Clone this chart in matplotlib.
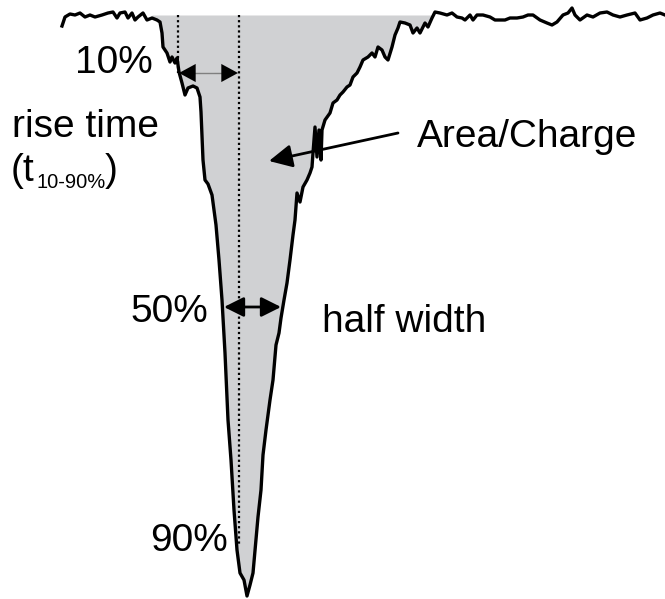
import numpy as np
import matplotlib
matplotlib.use("Agg")
import matplotlib.pyplot as plt

# Trace (pixel coordinates: x to the right, y downward)
trace_x = [62, 65, 70, 75, 80, 85, 90, 95, 102, 108, 113, 117, 120, 125, 128, 132, 135, 138, 143, 147,
           152, 157, 160, 162, 163, 167, 170, 172, 175, 177, 179, 182, 185, 188, 193, 197, 200,
           201, 203, 205, 208, 212, 216, 219, 222, 225, 228, 231, 234, 237, 240, 244, 247,
           250, 253, 256, 258, 261, 263, 266, 270, 273, 276, 279, 281, 284, 287, 290, 293, 295,
           297, 300, 303, 307, 310, 312, 313, 315, 317, 319, 321, 322, 325, 330, 333, 337, 340,
           343, 347, 350, 353, 357, 360, 363, 368, 372, 375, 378, 382, 385, 388, 392, 395, 398,
           400, 405, 410, 413, 417, 420, 425, 428, 432, 435, 440, 447, 452, 457, 462, 465, 470,
           473, 477, 483, 490, 495, 500, 505, 510, 517, 523, 528, 533, 540, 547, 552, 557, 563,
           568, 572, 575, 580, 587, 593, 600, 607, 613, 620, 627, 635, 640, 647, 653, 660, 665]
trace_y = [26, 17, 14, 15, 13, 17, 15, 17, 15, 13, 12, 18, 13, 12, 18, 13, 20, 17, 13, 20,
           18, 20, 22, 33, 47, 53, 62, 57, 63, 58, 72, 83, 95, 88, 86, 88, 97,
           112, 160, 180, 184, 195, 225, 260, 300, 353, 420, 460, 510, 550, 573, 580, 596,
           585, 573, 540, 517, 490, 455, 430, 400, 380, 345, 333, 318, 300, 283, 260, 235, 220,
           193, 202, 187, 180, 173, 167, 153, 127, 157, 130, 160, 130, 120, 113, 103, 100, 95,
           92, 87, 85, 77, 73, 67, 60, 57, 53, 57, 47, 50, 57, 60, 47, 35, 28,
           22, 23, 25, 33, 28, 33, 23, 27, 18, 12, 13, 15, 13, 17, 18, 20, 15,
           20, 15, 15, 17, 20, 20, 20, 18, 18, 17, 15, 15, 20, 23, 25, 22, 15,
           13, 8, 15, 20, 15, 17, 13, 12, 15, 17, 15, 13, 20, 18, 15, 13, 15]

baseline_level = 15
fill_x_range = (152, 436)

# Annotation labels
labels_pct = ["10%", "50%", "90%"]
label_area = "Area/Charge"
label_half = "half width"
label_rise = "rise time"
label_sub = "10-90%"

W, H = 665, 599
fig = plt.figure(figsize=(W / 100, H / 100), dpi=100)
ax = fig.add_axes([0, 0, 1, 1])
ax.set_xlim(0, W)
ax.set_ylim(H, 0)
ax.axis("off")

tx = np.array(trace_x, float)
ty = np.array(trace_y, float)
mask = (tx >= fill_x_range[0]) & (tx <= fill_x_range[1])
ax.fill_between(tx, baseline_level, ty, where=mask & (ty >= baseline_level),
                interpolate=True, color="#d0d1d3", lw=0, zorder=1)

# dotted markers
ax.plot([178, 178], [baseline_level, 73], color="black", lw=1.6,
        linestyle=(0, (1.0, 1.3)), zorder=2)
ax.plot([239, 239], [baseline_level, 545], color="black", lw=1.6,
        linestyle=(0, (1.0, 1.3)), zorder=2)

ax.plot(tx, ty, color="black", lw=2.4, solid_joinstyle="round", zorder=3)

# rise time arrow: grey shaft, black heads
ax.plot([190, 225], [73, 73], color="#808080", lw=1.0, zorder=4)
for tip, tail in [((179, 73), (200, 73)), ((238, 73), (215, 73))]:
    ax.annotate("", xy=tip, xytext=tail,
                arrowprops=dict(arrowstyle="-|>,head_length=12,head_width=6.5",
                                mutation_scale=1, color="black", lw=0.01,
                                shrinkA=0, shrinkB=0), zorder=5)

# half width arrow
ax.annotate("", xy=(224, 307), xytext=(281, 307),
            arrowprops=dict(arrowstyle="<|-|>,head_length=12,head_width=6",
                            mutation_scale=1, color="black", lw=2.0,
                            shrinkA=0, shrinkB=0), zorder=5)

# area arrow
ax.annotate("", xy=(269, 161), xytext=(398, 133),
            arrowprops=dict(arrowstyle="-|>,head_length=14,head_width=7",
                            mutation_scale=1, color="black", lw=2.0,
                            shrinkA=0, shrinkB=0), zorder=5)

fam = ["Liberation Sans", "DejaVu Sans"]
fs = 28
ax.text(75, 73, labels_pct[0], fontsize=fs, family=fam, va="baseline", ha="left")
ax.text(130, 322, labels_pct[1], fontsize=fs, family=fam, va="baseline", ha="left")
ax.text(150, 551, labels_pct[2], fontsize=fs, family=fam, va="baseline", ha="left")
ax.text(417, 147, label_area, fontsize=fs, family=fam, va="baseline", ha="left")
ax.text(322, 332, label_half, fontsize=fs, family=fam, va="baseline", ha="left")
ax.text(12, 137, label_rise, fontsize=fs, family=fam, va="baseline", ha="left")
ax.text(11, 181, "(t", fontsize=fs, family=fam, va="baseline", ha="left")
ax.text(36, 188, label_sub, fontsize=14.5, family=fam, va="baseline", ha="left")
ax.text(105, 181, ")", fontsize=fs, family=fam, va="baseline", ha="left")

fig.savefig("out.png", dpi=100)
